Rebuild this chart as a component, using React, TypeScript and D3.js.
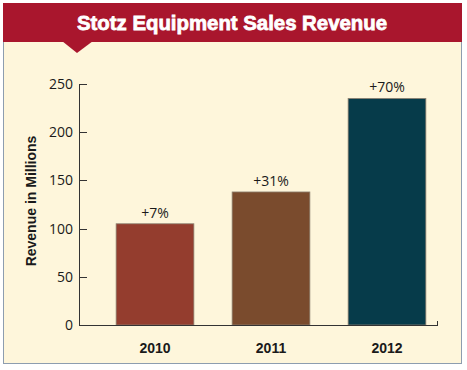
import * as d3 from 'd3'

const years = ['2010', '2011', '2012']
const revenue = [105, 138, 235]
const growthLabels = ['+7%', '+31%', '+70%']
const barColors = ['#943D2E', '#7A4B2D', '#063B4A']
const yTicks = [0, 50, 100, 150, 200, 250]

const W = 467
const H = 370

export default function App(): JSX.Element {
  const x = d3.scaleBand<string>().domain(years).range([97, 445]).paddingInner(0.33).paddingOuter(0.165)
  const y = d3.scaleLinear().domain([0, 250]).range([325, 84])
  const axisX = 79
  const axisEnd = 438

  const notch = d3.line()([[62, 41], [77, 53], [93, 41]])

  return (
    <div style={{ position: 'fixed', left: 0, top: 0 }}>
      <svg width={W} height={H} style={{ display: 'block', fontFamily: '"Open Sans", "Liberation Sans", sans-serif' }}>
        <rect x={0} y={0} width={W} height={H} fill="#ffffff" />
        <rect x={3.5} y={3.5} width={458} height={360} fill="#FEF6DB" stroke="#8D9DAF" strokeWidth={1} />
        <rect x={3} y={3} width={459} height={39} fill="#A9162D" />
        <path d={`${notch}Z`} fill="#A9162D" />
        <text
          x={232}
          y={30}
          textAnchor="middle"
          fill="#ffffff"
          stroke="#ffffff"
          strokeWidth={0.8}
          fontFamily='"Liberation Sans", Arial, sans-serif'
          fontWeight={900}
          fontSize={21}
          textLength={310}
          lengthAdjust="spacingAndGlyphs"
        >
          Stotz Equipment Sales Revenue
        </text>

        {years.map((yr, i) => (
          <g key={yr}>
            <rect
              x={x(yr)}
              y={y(revenue[i])}
              width={x.bandwidth()}
              height={y(0) - y(revenue[i])}
              fill={barColors[i]}
              stroke="#8C8070"
              strokeWidth={0.8}
            />
            <text
              x={(x(yr) ?? 0) + x.bandwidth() / 2}
              y={y(revenue[i]) - 6}
              textAnchor="middle"
              fontSize={14}
              fill="#1a1a1a"
            >
              {growthLabels[i]}
            </text>
            <text
              x={(x(yr) ?? 0) + x.bandwidth() / 2}
              y={353}
              textAnchor="middle"
              fontSize={14}
              fontWeight={700}
              fontFamily='"Liberation Sans", Arial, sans-serif'
              fill="#1a1a1a"
            >
              {yr}
            </text>
          </g>
        ))}

        <g stroke="#333" strokeWidth={1} fill="none">
          <line x1={axisX + 0.5} y1={y(250)} x2={axisX + 0.5} y2={y(0) + 0.5} />
          <line x1={axisX} y1={y(0) + 0.5} x2={axisEnd} y2={y(0) + 0.5} />
          <line x1={axisEnd - 0.5} y1={y(0) + 0.5} x2={axisEnd - 0.5} y2={y(0) - 4} />
          {yTicks.map((t) => (
            <line key={t} x1={axisX} y1={Math.round(y(t)) + 0.5} x2={axisX + 8} y2={Math.round(y(t)) + 0.5} />
          ))}
        </g>
        {yTicks.map((t) => (
          <text key={t} x={73} y={y(t) + 5} textAnchor="end" fontSize={14} fill="#1a1a1a">
            {t}
          </text>
        ))}

        <text
          transform="translate(36,201) rotate(-90)"
          textAnchor="middle"
          fontSize={14}
          fontWeight={700}
          fontFamily='"Liberation Sans", Arial, sans-serif'
          fill="#1a1a1a"
        >
          Revenue in Millions
        </text>
      </svg>
    </div>
  )
}
